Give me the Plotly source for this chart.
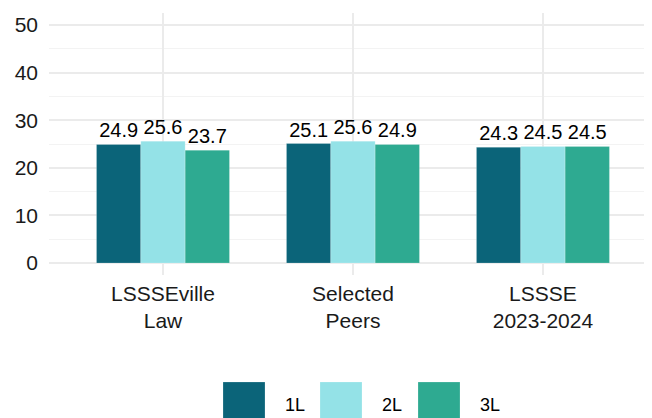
import plotly.graph_objects as go

categories = ["LSSSEville<br>Law", "Selected<br>Peers", "LSSSE<br>2023-2024"]
series_names = ["1L", "2L", "3L"]
values_1L = [24.9, 25.1, 24.3]
values_2L = [25.6, 25.6, 24.5]
values_3L = [23.7, 24.9, 24.5]
colors = ["#0B6479", "#94E2E7", "#2EAA91"]
y_ticks = [0, 10, 20, 30, 40, 50]

# page body has an 8px default margin; compensate so the plot lands where the reference has it
OFF = 8
W, H = 652, 418
ml, mr, mt, mb = 49 - OFF, OFF, 13 - OFF, 143 + OFF
FONT = "Liberation Sans, Arial"

fig = go.Figure()
for name, vals, col in zip(series_names, [values_1L, values_2L, values_3L], colors):
    fig.add_trace(go.Bar(
        x=list(range(len(categories))), y=vals, name=name,
        marker=dict(color=col, line=dict(color="rgba(255,255,255,0.35)", width=0.6)),
        text=[f"{v:.1f}" for v in vals], textposition="outside",
        textfont=dict(family=FONT, size=20, color="#000000"),
        cliponaxis=False, showlegend=False,
    ))

fig.update_layout(
    width=W, height=H,
    margin=dict(l=ml, r=mr, t=mt, b=mb, autoexpand=False),
    paper_bgcolor="white", plot_bgcolor="white",
    barmode="group", bargap=0.3, bargroupgap=0,
    font=dict(family=FONT, size=20, color="#000000"),
    uniformtext=dict(mode=False),
)
fig.update_xaxes(
    range=[-0.6, 2.574], tickmode="array", tickvals=list(range(len(categories))),
    ticktext=categories, showgrid=True, gridcolor="#EBEBEB", gridwidth=1.8,
    zeroline=False, showline=False, ticks="", ticklabelstandoff=4,
    automargin=False,
    tickfont=dict(family=FONT, size=21, color="#1a1a1a"),
)
fig.update_yaxes(
    range=[-2.5, 52.5], tickmode="array", tickvals=y_ticks,
    showgrid=True, gridcolor="#EBEBEB", gridwidth=1.8,
    minor=dict(tickmode="array", tickvals=[5, 15, 25, 35, 45], showgrid=True,
               gridcolor="#F3F3F3", gridwidth=1.2),
    zeroline=False, showline=False, ticks="", ticklabelstandoff=10,
    automargin=False,
    tickfont=dict(family=FONT, size=21, color="#1a1a1a"),
)

# manual legend (large swatches like the reference), positions given in page pixels
plot_w = W - ml - mr
plot_h = H - mt - mb
def px_x(x):
    return (x - OFF - ml) / plot_w
def px_y(y):
    return (OFF + H - mb - y) / plot_h

swatch_left = [223, 320, 418]
for name, col, x0 in zip(series_names, colors, swatch_left):
    fig.add_shape(type="rect", xref="paper", yref="paper",
                  x0=px_x(x0), x1=px_x(x0 + 42), y0=px_y(382), y1=px_y(424),
                  fillcolor=col, line=dict(width=0.6, color="rgba(255,255,255,0.35)"))
    fig.add_annotation(xref="paper", yref="paper", x=px_x(x0 + 60), y=px_y(405),
                       text=name, showarrow=False, xanchor="left", yanchor="middle",
                       font=dict(family=FONT, size=18, color="#000000"))

fig.write_html("out.html")
